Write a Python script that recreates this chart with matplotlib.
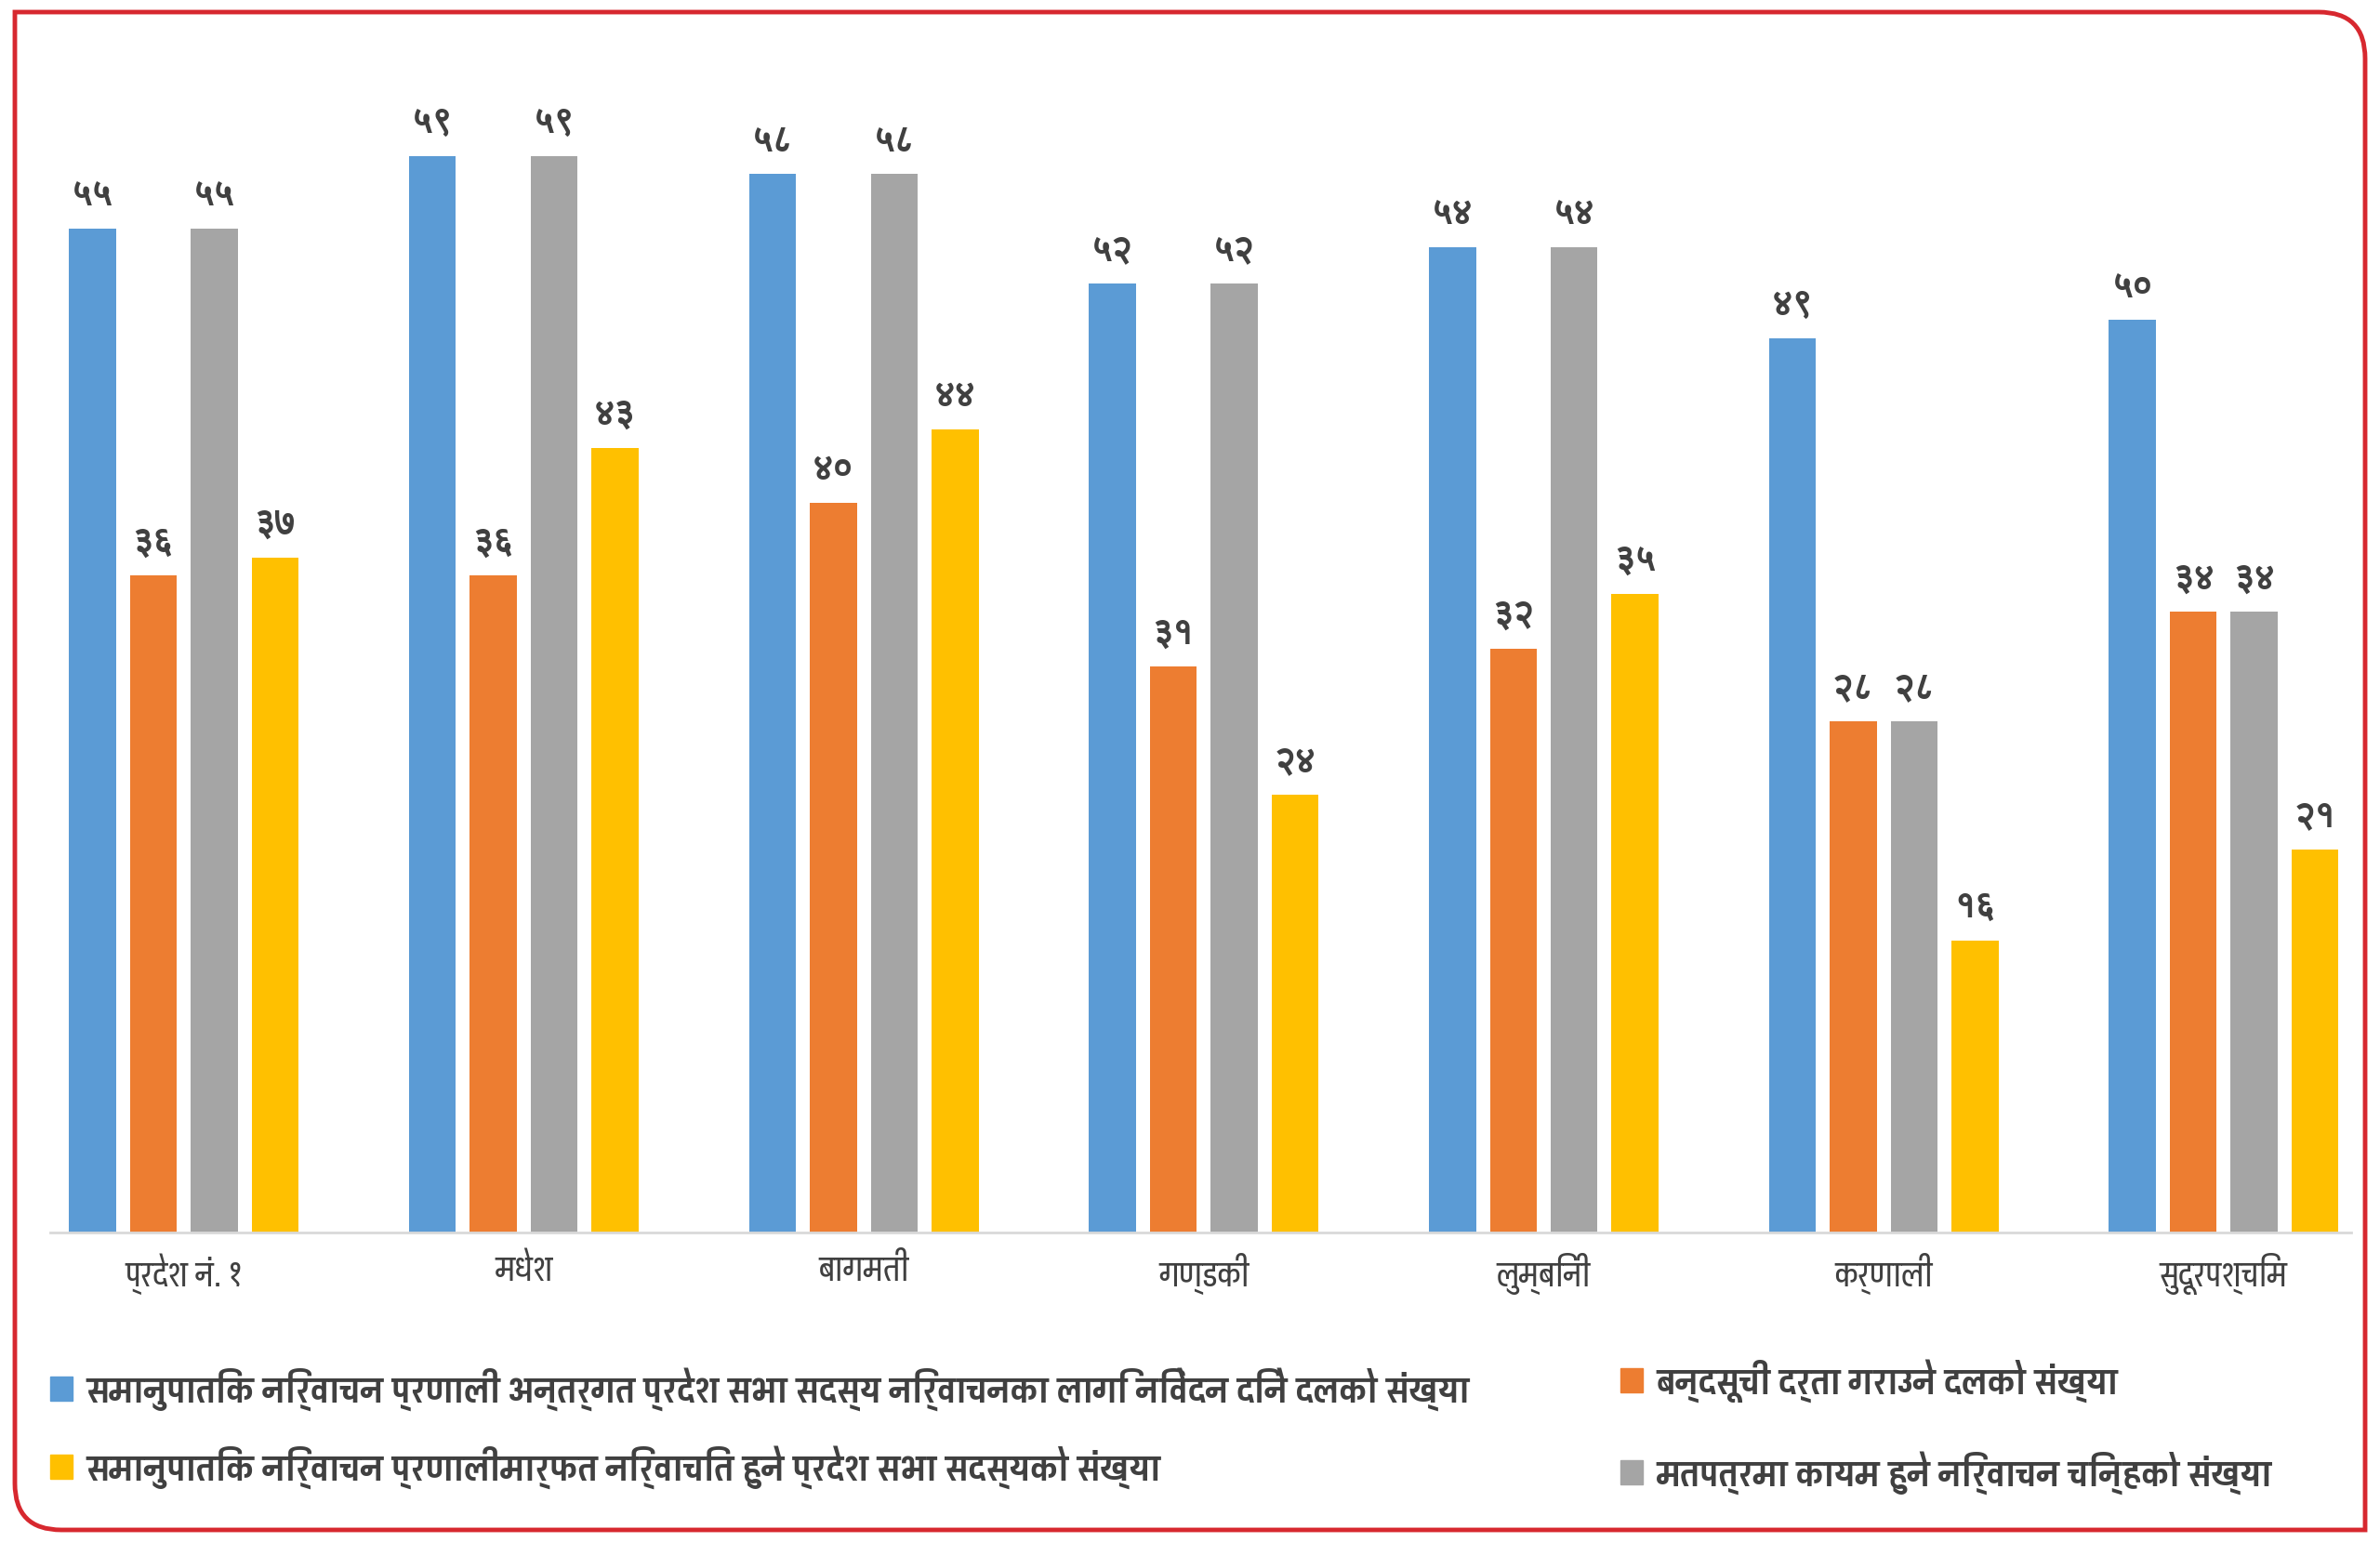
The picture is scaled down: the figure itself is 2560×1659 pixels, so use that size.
import numpy as np
import matplotlib
matplotlib.use("Agg")
import matplotlib.pyplot as plt
from matplotlib.path import Path
from matplotlib.patches import PathPatch, Patch

# DATA
# ==========================================
provinces = ["प्रदेश नं. १", "मधेश", "बागमती", "गण्डकी", "लुम्बिनी", "कर्णाली", "सुदूरपश्चिम"]
applied_parties = [55, 59, 58, 52, 54, 49, 50]
closed_list_parties = [36, 36, 40, 31, 32, 28, 34]
ballot_symbols = [55, 59, 58, 52, 54, 28, 34]
pr_members = [37, 43, 44, 24, 35, 16, 21]

series_names = [
    "समानुपातिक निर्वाचन प्रणाली अन्तर्गत प्रदेश सभा सदस्य निर्वाचनका लागि निवेदन दिने दलको संख्या",
    "बन्दसूची दर्ता गराउने दलको संख्या",
    "मतपत्रमा कायम हुने निर्वाचन चिन्हको संख्या",
    "समानुपातिक निर्वाचन प्रणालीमार्फत निर्वाचित हुने प्रदेश सभा सदस्यको संख्या",
]
colors = ["#5B9BD5", "#ED7D31", "#A5A5A5", "#FFC000"]

TEXT_FONT = ["Pragati Narrow", "Khand", "Arya", "DejaVu Sans"]
DIGIT_FONT = ["FreeSans", "DejaVu Sans"]


def to_nepali(n):
    return str(n).translate(str.maketrans("0123456789", "०१२३४५६७८९"))


def main():
    plt.rcParams["font.family"] = TEXT_FONT
    text_col = "#404040"

    fig = plt.figure(figsize=(25.6, 16.59), dpi=100)
    ax = fig.add_axes([0.0211, 0.2007, 0.9668, 0.7693])

    x = np.arange(len(provinces))
    step = 0.179
    width = 0.138
    all_series = [applied_parties, closed_list_parties, ballot_symbols, pr_members]
    for i, (vals, col, name) in enumerate(zip(all_series, colors, series_names)):
        bars = ax.bar(x + (i - 1.5) * step, vals, width, color=col, label=name)
        ax.bar_label(bars, labels=[to_nepali(v) for v in vals], padding=12,
                     fontsize=28, color=text_col, fontweight="bold", family=DIGIT_FONT)

    ax.set_xlim(-0.393, 6.375)
    ax.set_ylim(0, 65)
    ax.set_xticks(x)
    ax.set_xticklabels(provinces, fontsize=28, color=text_col)
    ax.tick_params(axis="x", length=0, pad=16)
    ax.set_yticks([])
    for s in ["top", "right", "left"]:
        ax.spines[s].set_visible(False)
    ax.spines["bottom"].set_color("#D9D9D9")
    ax.spines["bottom"].set_linewidth(2)

    # LEGEND (two columns placed by hand)
    leg_kw = dict(frameon=False, handlelength=0.57, handleheight=0.57,
                  handletextpad=0.35, borderpad=0, borderaxespad=0,
                  labelcolor=text_col, loc="center left",
                  prop=dict(family=TEXT_FONT, size=30, weight="bold"))
    fig.legend([Patch(color=colors[0]), Patch(color=colors[3])],
               [series_names[0], series_names[3]],
               bbox_to_anchor=(0.021, 0.0738), labelspacing=0.9, **leg_kw)
    fig.legend([Patch(color=colors[1]), Patch(color=colors[2])],
               [series_names[1], series_names[2]],
               bbox_to_anchor=(0.681, 0.0745), labelspacing=1.25, **leg_kw)

    # BORDER: square top-left / bottom-right, rounded top-right / bottom-left
    x0, y0, x1, y1, r = 0.16, 0.13, 25.44, 16.46, 0.5
    verts = [(x0, y1), (x1 - r, y1), (x1, y1), (x1, y1 - r), (x1, y0),
             (x0 + r, y0), (x0, y0), (x0, y0 + r), (x0, y1)]
    codes = [Path.MOVETO, Path.LINETO, Path.CURVE3, Path.CURVE3, Path.LINETO,
             Path.LINETO, Path.CURVE3, Path.CURVE3, Path.CLOSEPOLY]
    border = PathPatch(Path(verts, codes), transform=fig.dpi_scale_trans,
                       facecolor="none", edgecolor="#D7282F", linewidth=3.5)
    fig.patches.append(border)

    fig.savefig("out.png", dpi=100)


if __name__ == "__main__":
    main()
